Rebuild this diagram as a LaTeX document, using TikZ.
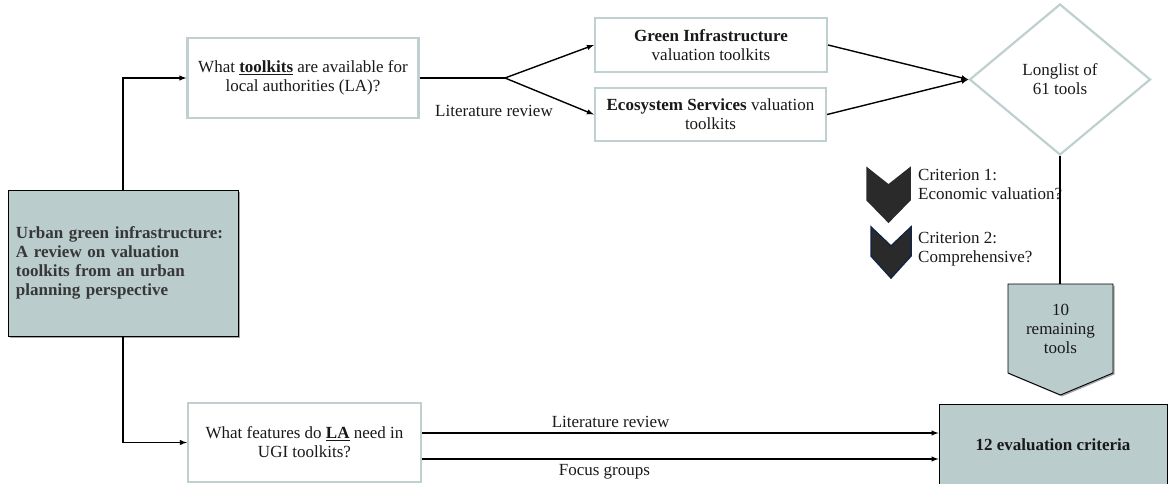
\documentclass[tikz,border=0pt]{standalone}
\usepackage{fontspec}
\setmainfont{Liberation Serif}
\usepackage{tikz}
\usetikzlibrary{arrows, positioning, shapes.geometric, shadows}
\definecolor{ugifill}{RGB}{186,204,204}
\definecolor{ugiline}{RGB}{192,208,208}
\definecolor{chevfill}{RGB}{42,42,42}
\definecolor{chevnavy}{RGB}{20,36,70}
\definecolor{titletext}{RGB}{55,55,55}
\tikzstyle{question}=[rectangle, draw=ugiline, line width=2.2pt, fill=white, align=center, inner sep=0pt]
\tikzstyle{tealbox}=[draw=black, line width=0.9pt, fill=ugifill, drop shadow={shadow xshift=1.5pt, shadow yshift=-1.5pt, fill=black, opacity=0.35}]
\tikzstyle{link}=[line width=1.4pt]

\begin{document}
\begin{tikzpicture}[x=1pt, y=-1pt, font=\fontsize{17}{19}\selectfont, text=black!90]
		\useasboundingbox (0,0) rectangle (1168,483);
		\clip (0,0) rectangle (1168,483);
		% the paper
		\node[tealbox, rectangle, minimum width=230, minimum height=146, text width=214, inner xsep=8pt, align=left, text=titletext]
			(paper) at (123,263)
			{\textbf{Urban green infrastructure:\\A review on valuation\\toolkits from an urban\\planning perspective}};
		% the two questions
		\node[question, minimum width=231, minimum height=80] (toolkits) at (303,78)
			{What \underline{\textbf{toolkits}} are available for\\local authorities (LA)?};
		\node[question, minimum width=233, minimum height=79] (features) at (304.5,442.5)
			{What features do \underline{\textbf{LA}} need in\\UGI toolkits?};
		% toolkit families
		\node[question, minimum width=232, minimum height=54] (green) at (711,45)
			{\textbf{Green Infrastructure}\\valuation toolkits};
		\node[question, minimum width=231, minimum height=53] (ecosys) at (710.5,114.5)
			{\textbf{Ecosystem Services} valuation\\toolkits};
		\node[diamond, draw=ugiline, line width=2.2pt, minimum width=181, minimum height=151, inner sep=0pt, align=center]
			(longlist) at (1060,79.5) {Longlist of\\61 tools};
		% filtering
		\foreach \cx/\cy/\cw/\ch/\cd/\cb in {867/168/43/54/17/chevfill, 871/227/40/51/19/chevnavy}
			\draw[fill=chevfill, draw=\cb, line width=1.5pt, line join=miter]
				(\cx,\cy) -- ++(\cw/2,\cd) -- ++(\cw/2,-\cd) -- ++(0,\ch-22) -- ++(-\cw/2,22) -- ++(-\cw/2,-22) -- cycle;
		\node[anchor=west, align=left, inner sep=0pt] (crit1) at (918,184) {Criterion 1:\\Economic valuation?};
		\node[anchor=west, align=left, inner sep=0pt] (crit2) at (918,249) {Criterion 2:\\Comprehensive?};
		\draw[tealbox] (1008,284) -- (1113,284) -- (1113,373) -- (1060.5,395) -- (1008,373) -- cycle;
		\coordinate (remaintop) at (1060,284);
		\node[align=center] (remain) at (1060.5,329) {10\\remaining\\tools};
		\node[tealbox, rectangle, minimum width=228, minimum height=82] (criteria) at (1053,445)
			{\textbf{12 evaluation criteria}};
		% connectors
		\draw[link, -latex] (paper.north) |- (toolkits.west);
		\draw[link, -latex] (paper.south) |- (features.west);
		\coordinate (split) at (505,78);
		\draw[link] (toolkits.east) -- (split);
		\draw[link, -latex] (split) -- (green.west);
		\draw[link, -latex] (split) -- (ecosys.west);
		\node (litrev) at (494,111) {Literature review};
		\draw[link, -latex] (green.east) -- (longlist.west);
		\draw[link, -latex] (ecosys.east) -- (longlist.west);
		\draw[link] (longlist.south) -- (remaintop);
		\coordinate (lrstart) at ([yshift=9.5pt]features.east);
		\coordinate (fgstart) at ([yshift=-16.5pt]features.east);
		\draw[link, -latex] (lrstart) -- node[pos=0.365, above, yshift=1pt] {Literature review} (lrstart -| criteria.west);
		\draw[link, -latex] (fgstart) -- node[pos=0.353, below, yshift=-1pt] {Focus groups} (fgstart -| criteria.west);
	\end{tikzpicture}
\end{document}
